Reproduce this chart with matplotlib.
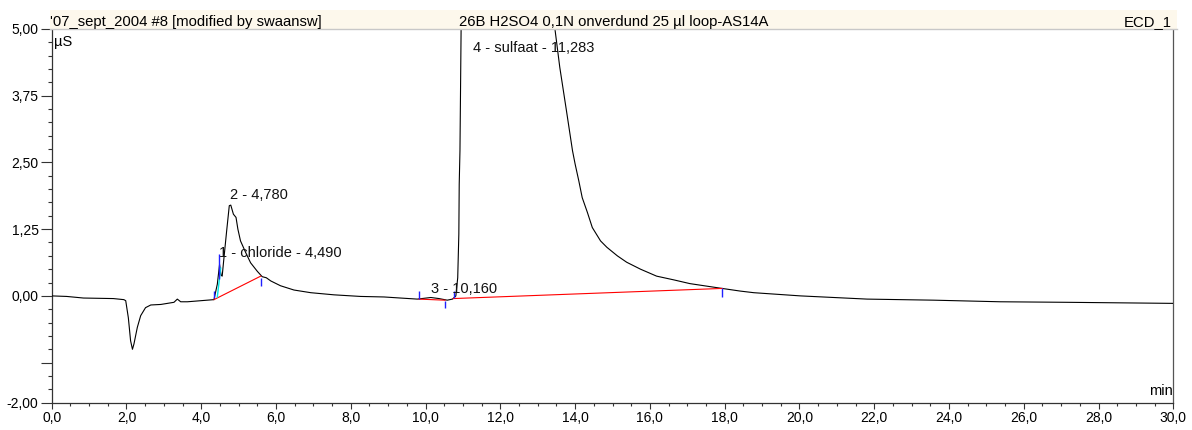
import numpy as np
import matplotlib.pyplot as plt
from matplotlib.ticker import FixedLocator, MultipleLocator, FuncFormatter

plt.rcParams['font.family'] = ['Liberation Sans', 'DejaVu Sans']

# chromatogram trace (min, µS)
time = [0.0, 0.40, 0.85, 1.65, 1.93, 1.98, 2.05, 2.11, 2.16, 2.20, 2.29, 2.38, 2.51,
        2.65, 2.92, 3.27, 3.36, 3.45, 3.63, 4.34, 4.43, 4.49, 4.53, 4.56, 4.60, 4.68,
        4.75, 4.79, 4.86, 4.93, 4.98, 5.05, 5.19, 5.32, 5.50, 5.63, 5.74, 5.86, 6.12,
        6.48, 6.93, 7.55, 8.26, 8.89, 9.33, 9.78, 10.14, 10.36, 10.58, 10.72, 10.81,
        10.86, 10.89, 10.90, 10.92, 10.95, 11.05, 11.15, 11.28, 11.6, 12.0, 12.5, 13.0,
        13.46, 13.59, 13.77, 13.93, 14.0, 14.10, 14.19, 14.33, 14.46, 14.68, 14.85,
        15.13, 15.38, 15.75, 16.18, 16.64, 17.07, 17.93, 18.42, 18.78, 20.03, 21.81,
        23.59, 25.37, 27.16, 30.0]
signal = [0.0, -0.01, -0.04, -0.05, -0.07, -0.09, -0.41, -0.84, -1.00, -0.90, -0.59,
          -0.37, -0.22, -0.17, -0.16, -0.12, -0.06, -0.11, -0.11, -0.07, 0.22, 0.59,
          0.39, 0.37, 0.66, 1.22, 1.69, 1.70, 1.53, 1.47, 1.25, 1.03, 0.81, 0.62, 0.46,
          0.36, 0.34, 0.28, 0.19, 0.11, 0.06, 0.02, -0.01, -0.02, -0.04, -0.06, -0.03,
          -0.05, -0.08, -0.06, 0.0, 0.34, 1.16, 2.09, 2.72, 4.96, 11.0, 17.0, 21.0,
          18.0, 14.0, 9.5, 6.8, 5.0, 4.28, 3.46, 2.72, 2.47, 2.15, 1.84, 1.56, 1.28,
          1.03, 0.91, 0.75, 0.63, 0.50, 0.37, 0.30, 0.23, 0.14, 0.09, 0.06, 0.0, -0.06,
          -0.08, -0.11, -0.12, -0.14]

# peak labels: text, retention time, label baseline (µS)
peak_text = ["1 - chloride - 4,490", "2 - 4,780", "3 - 10,160", "4 - sulfaat - 11,283"]
peak_x = [4.47, 4.76, 10.15, 11.28]
peak_y = [0.72, 1.82, 0.06, 4.57]

# integration baselines (red), start/end points
base_x0 = [4.34, 9.82, 10.74]
base_y0 = [-0.07, -0.06, -0.05]
base_x1 = [5.59, 10.52, 17.94]
base_y1 = [0.37, -0.08, 0.14]

# peak delimiters (blue)
delim_x = [4.35, 4.47, 5.61, 9.82, 10.52, 10.76, 17.94]
delim_lo = [-0.03, 0.32, 0.19, -0.06, -0.23, -0.03, -0.02]
delim_hi = [0.09, 0.79, 0.34, 0.09, -0.09, 0.09, 0.14]

W, H = 1192, 430
fig = plt.figure(figsize=(W / 100, H / 100), dpi=100)
ax = fig.add_axes([51.7 / W, (H - 402.7) / H, (1173.3 - 51.7) / W, (402.7 - 28.9) / H])

ax.plot(time, signal, color='black', lw=0.8, zorder=3)
for x0, y0, x1, y1 in zip(base_x0, base_y0, base_x1, base_y1):
    ax.plot([x0, x1], [y0, y1], color='#ff0000', lw=0.8, zorder=4)
ax.plot([4.43, 4.52], [-0.02, 0.52], color='#00e5e5', lw=1.0, zorder=4)
ax.vlines(delim_x, delim_lo, delim_hi, color='#2020ff', lw=1.0, zorder=5)

for t, x, y in zip(peak_text, peak_x, peak_y):
    ax.text(x, y, t, fontsize=10.5, va='baseline', ha='left', color='#111111', zorder=6)

ax.set_xlim(0, 30)
ax.set_ylim(-2, 5)

fmt = lambda d: FuncFormatter(lambda v, p: f"{v:.{d}f}".replace('.', ','))
ax.xaxis.set_major_locator(MultipleLocator(2))
ax.xaxis.set_minor_locator(MultipleLocator(0.5))
ax.xaxis.set_major_formatter(fmt(1))
ax.yaxis.set_major_locator(FixedLocator([-2, -1.25, 0, 1.25, 2.5, 3.75, 5]))
ax.yaxis.set_minor_locator(MultipleLocator(0.25))
ax.yaxis.set_major_formatter(FuncFormatter(
    lambda v, p: "" if abs(v + 1.25) < 1e-6 else f"{v:.2f}".replace('.', ',')))

ax.tick_params(axis='x', which='major', length=4.5, width=0.8, pad=1.5, labelsize=10, colors='#333333', labelcolor='black')
ax.tick_params(axis='x', which='minor', length=2.2, width=0.8, colors='#333333')
ax.tick_params(axis='y', which='major', length=8, width=0.8, pad=1.5, labelsize=10, colors='#333333', labelcolor='black')
ax.tick_params(axis='y', which='minor', length=3, width=0.8, colors='#333333')

ax.spines['top'].set_visible(False)
for s in ['left', 'bottom']:
    ax.spines[s].set_color('#333333')
    ax.spines[s].set_linewidth(0.9)
ax.spines['right'].set_color('#555555')
ax.spines['right'].set_linewidth(0.9)

ax.text(0.002, 0.985, "µS", transform=ax.transAxes, fontsize=10.5, va='top', ha='left')
ax.text(0.9995, 0.012, "min", transform=ax.transAxes, fontsize=10.5, va='bottom', ha='right')

# header strip
hdr = fig.add_axes([50 / W, (H - 29) / H, (1177 - 50) / W, 19 / H])
hdr.set_facecolor('#fdf8ec')
hdr.set_xticks([])
hdr.set_yticks([])
for s in ['top', 'left', 'right']:
    hdr.spines[s].set_visible(False)
hdr.spines['bottom'].set_color('#c8c8c8')
hdr.spines['bottom'].set_linewidth(1.0)
hdr.set_xlim(50, 1177)
hdr.set_ylim(29, 10)
hdr.text(50.5, 26, "'07_sept_2004 #8 [modified by swaansw]", fontsize=10.7, va='baseline', ha='left')
hdr.text(614, 26, "26B H2SO4 0,1N onverdund 25 µl loop-AS14A", fontsize=10.7, va='baseline', ha='center')
hdr.text(1172, 26, "ECD_1", fontsize=10.7, va='baseline', ha='right')

fig.savefig('out.png', dpi=100)
